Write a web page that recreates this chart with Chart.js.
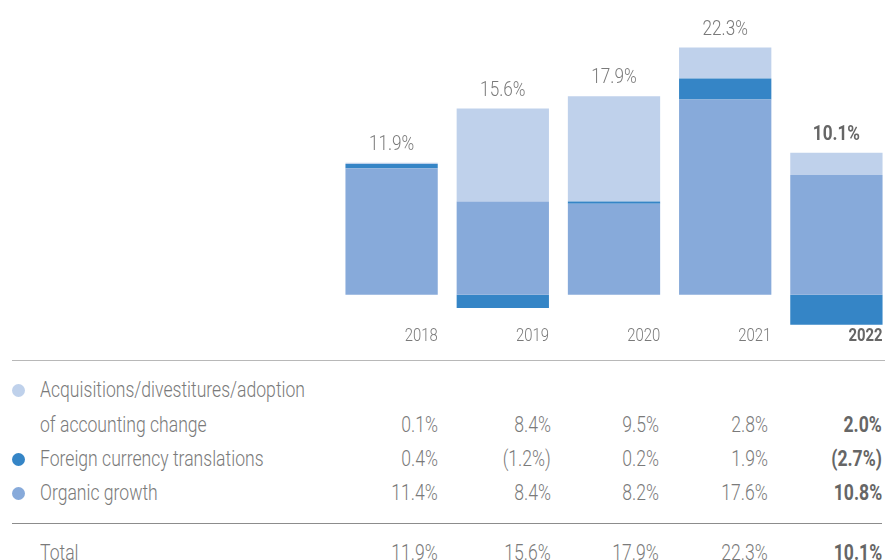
<!DOCTYPE html>
<html><head><meta charset="utf-8">
<script src="https://cdn.jsdelivr.net/npm/chart.js@4/dist/chart.umd.min.js"></script>
<style>
html,body{margin:0;padding:0;background:#fff;overflow:hidden;width:885px;height:560px;}
#wrap{position:absolute;left:0;top:0;width:892px;height:350px;}
.t{position:absolute;font-family:Roboto,sans-serif;font-weight:300;font-size:21.5px;color:#7a7a7a;white-space:nowrap;line-height:22px;}
.b{font-weight:700;color:#666;}
.dot{position:absolute;width:13px;height:13px;border-radius:50%;}
.hl{position:absolute;height:1px;}
</style></head><body>
<div id="wrap"><canvas id="c"></canvas></div>
<div id="tbl"></div>
<script>
const years = ["2018","2019","2020","2021","2022"];
const acquisitions = [0.1, 8.4, 9.5, 2.8, 2.0];
const fxTranslations = [0.4, -1.2, 0.2, 1.9, -2.7];
const organic = [11.4, 8.4, 8.2, 17.6, 10.8];
const totals = [11.9, 15.6, 17.9, 22.3, 10.1];
const seriesNames = ["Acquisitions/divestitures/adoption", "of accounting change", "Foreign currency translations", "Organic growth", "Total"];
const colors = {acq:"#bfd1eb", fx:"#3585c6", org:"#87aada"};
const FONT = 'Roboto, sans-serif';

// horizontal condensing factors to mimic the condensed face of the original
const mctx = document.createElement('canvas').getContext('2d');
mctx.font = '300 21.5px ' + FONT;
const SX = 265 / mctx.measureText(seriesNames[0]).width;
mctx.font = '300 19px ' + FONT;
const YSX = 33 / mctx.measureText('2018').width;

function drawText(ctx, txt, x, y, align, sx){
  ctx.save();
  ctx.translate(x, y);
  ctx.scale(sx, 1);
  ctx.textAlign = align;
  ctx.fillText(txt, 0, 0);
  ctx.restore();
}

const labelsPlugin = {
  id:'labelsPlugin',
  afterDatasetsDraw(chart){
    const ctx = chart.ctx;
    const y = chart.scales.y;
    const meta = chart.getDatasetMeta(0);
    ctx.save();
    ctx.textBaseline='middle';
    years.forEach((yr,i)=>{
      const bar = meta.data[i];
      const right = bar.x + bar.width/2;
      const last = i === years.length-1;
      let pos = 0;
      [organic[i], fxTranslations[i], acquisitions[i]].forEach(v=>{ if(v>0) pos+=v; });
      ctx.fillStyle = last ? '#666' : '#7a7a7a';
      ctx.font = (last?'700 ':'300 ') + '21px ' + FONT;
      drawText(ctx, totals[i].toFixed(1)+'%', bar.x, y.getPixelForValue(pos)-18, 'center', SX);
      ctx.font = (last?'700 ':'300 ') + '19px ' + FONT;
      drawText(ctx, yr, right, 336, 'right', YSX);
    });
    ctx.restore();
  }
};

new Chart(document.getElementById('c'), {
  type:'bar',
  data:{labels:years, datasets:[
    {label:seriesNames[3], data:organic, backgroundColor:colors.org, stack:'s'},
    {label:seriesNames[2], data:fxTranslations, backgroundColor:colors.fx, stack:'s'},
    {label:seriesNames[0], data:acquisitions, backgroundColor:colors.acq, stack:'s'}
  ]},
  options:{
    responsive:true, maintainAspectRatio:false, animation:false,
    datasets:{bar:{categoryPercentage:1, barPercentage:0.83, borderWidth:0}},
    layout:{padding:{left:336,right:0,top:0,bottom:22}},
    plugins:{legend:{display:false}, tooltip:{enabled:false}},
    scales:{
      x:{stacked:true, display:false},
      y:{stacked:true, display:false, min:-3, max:26.58}
    }
  },
  plugins:[labelsPlugin]
});

// table
const tbl = document.getElementById('tbl');
const colRight = [438, 551, 659, 768, 882];
function fmt(v){ return v<0 ? '('+Math.abs(v).toFixed(1)+'%)' : v.toFixed(1)+'%'; }
function addText(txt, x, y, cls, right){
  const d=document.createElement('div'); d.className='t '+(cls||'');
  d.textContent=txt;
  if(right){ d.style.right=(885-x)+'px'; d.style.transformOrigin='right center'; }
  else { d.style.left=x+'px'; d.style.transformOrigin='left center'; }
  d.style.transform='scaleX('+SX+')';
  d.style.top=(y-11)+'px'; tbl.appendChild(d);
}
function addLine(x1,x2,y,c){ const d=document.createElement('div'); d.className='hl'; d.style.left=x1+'px'; d.style.width=(x2-x1)+'px'; d.style.top=y+'px'; d.style.background=c; tbl.appendChild(d);}
function addDot(x,y,c){ const d=document.createElement('div'); d.className='dot'; d.style.left=(x-6.5)+'px'; d.style.top=(y-6.5)+'px'; d.style.background=c; tbl.appendChild(d);}
addLine(12,885,360,'#b8b8b8');
addLine(12,882,523,'#8c8c8c');
const rowY = [425, 459, 493, 553];
addDot(18,390,colors.acq); addText(seriesNames[0],40,390);
addText(seriesNames[1],40,rowY[0]);
addDot(18,rowY[1],colors.fx); addText(seriesNames[2],40,rowY[1]);
addDot(18,rowY[2],colors.org); addText(seriesNames[3],40,rowY[2]);
addText(seriesNames[4],40,rowY[3]);
[acquisitions, fxTranslations, organic, totals].forEach((arr,r)=>{
  arr.forEach((v,i)=>addText(fmt(v), colRight[i], rowY[r], i===4?'b':'', true));
});
</script>
</body></html>
